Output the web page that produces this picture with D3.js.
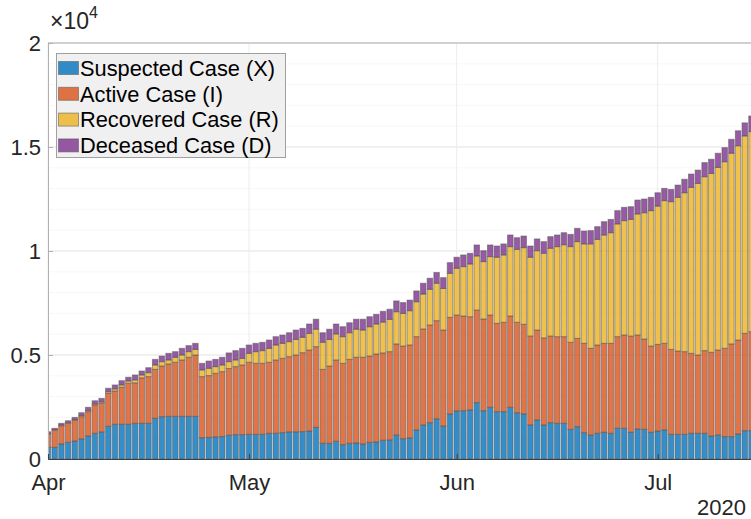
<!DOCTYPE html>
<html><head><meta charset="utf-8">
<script src="https://cdn.jsdelivr.net/npm/d3@7"></script>
<style>
html,body{margin:0;padding:0;background:#fff;}
svg{display:block;font-family:"Liberation Sans",Arial,Helvetica,sans-serif;}
</style></head>
<body><svg id="c" width="751" height="519"></svg>
<script>
const startDate = "2020-04-01";
const seriesNames = ["Suspected Case (X)","Active Case (I)","Recovered Case (R)","Deceased Case (D)"];
const suspected = [560,560,720,800,865,960,1105,1235,1300,1570,1670,1670,1670,1715,1715,1715,1955,2035,2050,2050,2050,2050,2050,1025,1040,1060,1080,1140,1170,1170,1185,1185,1185,1235,1235,1265,1300,1300,1315,1345,1520,755,755,850,690,755,770,720,800,815,900,915,1150,975,1010,1395,1635,1745,1925,1585,2165,2310,2320,2355,2710,2320,2485,2275,2275,2485,2225,2165,1635,1875,1635,1745,1715,1715,1425,1555,1265,1150,1235,1285,1235,1475,1475,1285,1440,1425,1285,1345,1395,1185,1185,1185,1235,1235,1235,1105,1150,1075,1075,1200,1360,1360];
const active = [630,830,880,915,1010,1075,1170,1365,1375,1585,1600,1780,1970,1945,2185,2245,2355,2435,2520,2600,2710,2840,2950,2935,2970,3060,3120,3210,3270,3350,3465,3415,3415,3415,3525,3575,3620,3700,3795,3895,3880,3555,3715,3910,3910,4035,4120,4170,4150,4235,4200,4245,4380,4455,4470,4485,4615,4695,4725,4615,4645,4610,4555,4485,4450,4410,4435,4245,4295,4390,4345,4310,4275,4325,4185,4165,4165,4165,4185,4245,4295,4170,4245,4275,4325,4405,4485,4625,4520,4345,4145,4165,4165,4085,4005,3975,3845,3765,3975,4025,4090,4245,4455,4520,4680,4760];
const recovered = [40,30,30,35,25,55,55,50,65,75,100,110,110,140,140,190,210,210,190,240,240,270,270,320,350,320,320,330,320,320,430,560,610,670,720,720,720,750,740,800,840,1300,1280,1250,1280,1280,1350,1310,1410,1440,1480,1555,1550,1570,1650,1680,1680,1720,1800,2000,2115,2250,2375,2535,2600,2760,2810,3180,3240,3335,3510,3685,3790,3815,4070,4220,4330,4420,4600,4650,4780,5020,5080,5210,5320,5420,5500,5610,5820,6070,6510,6650,6860,7100,7390,7640,7980,8250,8360,8600,8780,8970,9170,9340,9490,9620];
const deceased = [80,55,85,90,100,135,155,150,175,170,190,205,180,240,190,240,270,270,320,270,320,290,290,320,350,350,370,420,450,480,400,400,400,400,400,400,430,450,430,450,480,460,490,480,480,480,480,520,480,465,520,485,520,520,510,520,520,530,520,520,515,530,560,515,530,525,560,540,530,560,560,560,540,565,560,560,560,580,590,640,620,640,610,640,640,640,640,610,670,660,640,640,590,590,590,650,640,640,680,680,680,680,670,720,630,750];
const yTicks = [0,5000,10000,15000,20000];
const yTickLabels = ["0","0.5","1","1.5","2"];
const monthTicks = ["2020-04-01","2020-05-01","2020-06-01","2020-07-01"];
const monthLabels = ["Apr","May","Jun","Jul"];
const colors = ["#0072BD","#D95319","#EDB120","#7E2F8E"];

const svg = d3.select("#c");
const L = 48, R = 751, T = 43, B = 459;
const parse = d3.utcParse("%Y-%m-%d");
const t0 = parse(startDate);
const DAY = 864e5;
const dates = suspected.map((_, i) => new Date(t0.getTime() + i*DAY));
const x = d3.scaleUtc().domain([t0, new Date(t0.getTime() + 105.5*DAY)]).range([L, L + 6.7*105.5]);
const y = d3.scaleLinear().domain([0, 20000]).range([B, T]);

const rows = dates.map((d,i)=>({date:d, X:suspected[i], I:active[i], R:recovered[i], D:deceased[i]}));
const stack = d3.stack().keys(["X","I","R","D"])(rows);

const tc = "#262626";
svg.append("defs").append("clipPath").attr("id","clip").append("rect")
  .attr("x",L).attr("y",T).attr("width",R-L).attr("height",B-T);

// grid
const g = svg.append("g");
d3.range(0,20001,1000).forEach(v=>{
  const major = v % 5000 === 0;
  g.append("line").attr("x1",L).attr("x2",R).attr("y1",y(v)).attr("y2",y(v))
   .attr("stroke", major ? "#e2e2e2" : "#efefef").attr("stroke-width",1)
   .attr("stroke-dasharray", major ? null : "1,1");
});
monthTicks.forEach(m=>{
  const xx = x(parse(m));
  g.append("line").attr("x1",xx).attr("x2",xx).attr("y1",T).attr("y2",B)
   .attr("stroke","#ececec").attr("stroke-width",1);
});

// bars
const step = x(new Date(t0.getTime()+DAY)) - x(t0);
const bars = svg.append("g").attr("clip-path","url(#clip)");
stack.forEach((s,k)=>{
  bars.append("g").selectAll("rect").data(s).join("rect")
    .attr("x", d => x(d.data.date) - step/2 + 0.6)
    .attr("width", step - 1.2)
    .attr("y", d => y(d[1]))
    .attr("height", d => y(d[0]) - y(d[1]))
    .attr("fill", colors[k]).attr("fill-opacity",0.8)
    .attr("stroke","#5a5a5a").attr("stroke-opacity",0.55).attr("stroke-width",1);
});

// axes
const yAxis = d3.axisLeft(y).tickValues(yTicks).tickFormat((d,i)=>yTickLabels[i]).tickSize(-5).tickPadding(7);
const ya = svg.append("g").attr("transform",`translate(${L},0)`).call(yAxis);
ya.select(".domain").attr("stroke","#b0b0b0");
ya.selectAll(".tick line").attr("stroke","#b0b0b0");
ya.selectAll("text").attr("font-size",22).attr("fill",tc).attr("font-family","Liberation Sans, Arial, sans-serif").attr("dy","0.33em");

const xAxis = d3.axisBottom(x).tickValues(monthTicks.map(parse)).tickFormat((d,i)=>monthLabels[i]).tickSize(-5).tickPadding(15);
const xa = svg.append("g").attr("transform",`translate(0,${B})`).call(xAxis);
xa.select(".domain").attr("stroke","#404040");
xa.selectAll(".tick line").attr("stroke","#404040");
xa.selectAll("text").attr("font-size",22).attr("fill",tc).attr("font-family","Liberation Sans, Arial, sans-serif");

svg.append("line").attr("x1",L).attr("x2",R).attr("y1",T).attr("y2",T).attr("stroke","#b0b0b0");

// exponent
const ex = svg.append("text").attr("x",50).attr("y",29).attr("fill",tc).attr("font-size",23);
ex.append("tspan").text("\u00d710");
ex.append("tspan").attr("font-size",16).attr("dy",-11).text("4");

// year label
svg.append("text").attr("x",746).attr("y",519-4).attr("text-anchor","end").attr("fill",tc).attr("font-size",22).text("2020");

// legend
const lg = svg.append("g");
lg.append("rect").attr("x",56.5).attr("y",53.5).attr("width",229).attr("height",104)
  .attr("fill","#f0f0f0").attr("stroke","#a0a0a0").attr("stroke-width",1);
seriesNames.forEach((n,i)=>{
  const cy = 68 + i*25.8;
  lg.append("rect").attr("x",58.5).attr("y",cy-6.5).attr("width",20).attr("height",13)
    .attr("fill",colors[i]).attr("fill-opacity",0.8).attr("stroke","#5a5a5a").attr("stroke-opacity",0.55);
  lg.append("text").attr("x",80).attr("y",cy).attr("dy","0.36em").attr("font-size",21.8).attr("fill","#000").text(n);
});
</script>
</body></html>
